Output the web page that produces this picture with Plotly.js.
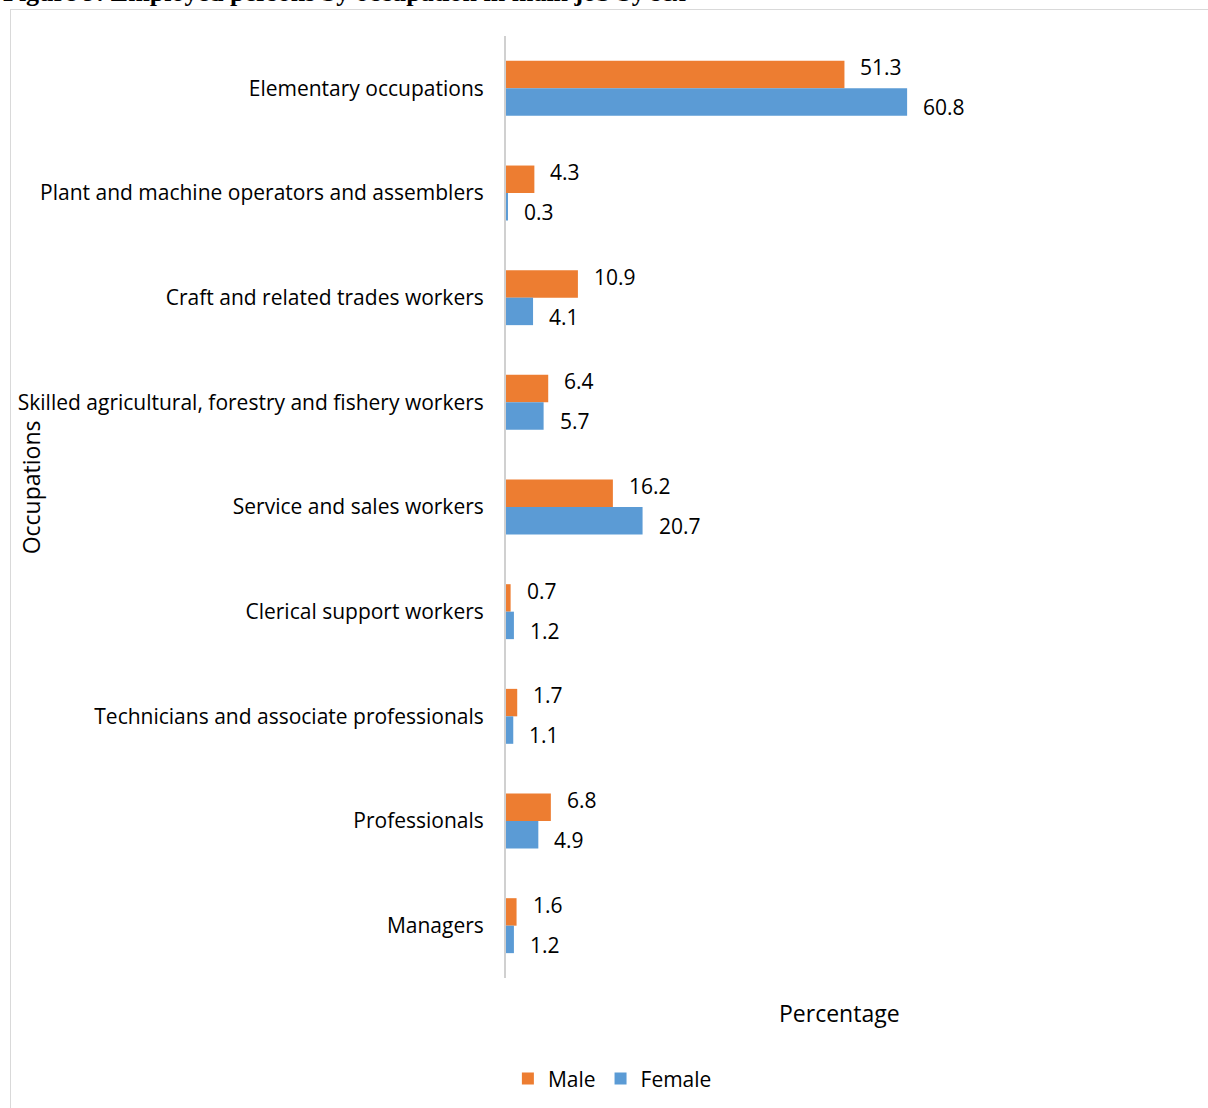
<!DOCTYPE html>
<html>
<head>
<meta charset="utf-8">
<script src="https://cdn.plot.ly/plotly-3.0.1.min.js"></script>
<style>
  html, body { margin: 0; padding: 0; background: #fff; overflow: hidden; }
  #chart { width: 1208px; height: 1108px; position: absolute; left: 0; top: 0; }
  #frame { position: absolute; left: 10px; top: 9px; width: 1400px; height: 1400px;
           border: 1px solid #d9d9d9; pointer-events: none; }
</style>
</head>
<body>
<div id="chart"></div>
<div id="frame"></div>
<script>
const categories = [
  "Elementary occupations",
  "Plant and machine operators and assemblers",
  "Craft and related trades workers",
  "Skilled agricultural, forestry and fishery workers",
  "Service and sales workers",
  "Clerical support workers",
  "Technicians and associate professionals",
  "Professionals",
  "Managers"
];
const maleValues   = [51.3, 4.3, 10.9, 6.4, 16.2, 0.7, 1.7, 6.8, 1.6];
const femaleValues = [60.8, 0.3, 4.1, 5.7, 20.7, 1.2, 1.1, 4.9, 1.2];
const seriesNames = ["Male", "Female"];
const chartTitle = "Figure 9: Employed persons by occupation in main job by sex";
const xTitle = "Percentage";
const yTitle = "Occupations";

const FONT = "'Open Sans', Lato, sans-serif";
const MALE_COLOR = "#ED7D31";
const FEMALE_COLOR = "#5B9BD5";

const traces = [
  { type: "bar", orientation: "h", name: seriesNames[0], y: categories, x: maleValues,
    marker: { color: MALE_COLOR }, hoverinfo: "x+y" },
  { type: "bar", orientation: "h", name: seriesNames[1], y: categories, x: femaleValues,
    marker: { color: FEMALE_COLOR }, hoverinfo: "x+y" }
];

const labelFont = { family: FONT, size: 21, color: "#000" };
const annotations = [];
categories.forEach((c, i) => {
  annotations.push({ x: maleValues[i], y: c, xref: "x", yref: "y", text: maleValues[i].toFixed(1),
    showarrow: false, xanchor: "left", yanchor: "middle", xshift: 14, yshift: 21, font: labelFont });
  annotations.push({ x: femaleValues[i], y: c, xref: "x", yref: "y", text: femaleValues[i].toFixed(1),
    showarrow: false, xanchor: "left", yanchor: "middle", xshift: 14, yshift: -19, font: labelFont });
});
annotations.push({ text: xTitle, xref: "paper", yref: "paper", x: 0.5, y: -0.037,
  xanchor: "center", yanchor: "middle", showarrow: false, font: { family: FONT, size: 23, color: "#000" } });
annotations.push({ text: yTitle, xref: "paper", yref: "paper", x: -0.712, y: 0.521, textangle: -90,
  xanchor: "center", yanchor: "middle", showarrow: false, font: { family: FONT, size: 23, color: "#000" } });
annotations.push({ text: "<b>" + chartTitle + "</b>", xref: "paper", yref: "paper", x: -0.757, y: 1.0287,
  xanchor: "left", yanchor: "bottom", showarrow: false,
  font: { family: "'Liberation Serif', 'DejaVu Serif', serif", size: 26, color: "#000" } });

const layout = {
  width: 1208, height: 1108,
  margin: { l: 506, r: 35, t: 36, b: 130, pad: 0, autoexpand: false },
  paper_bgcolor: "rgba(0,0,0,0)", plot_bgcolor: "rgba(0,0,0,0)",
  barmode: "group", bargap: 0.475, bargroupgap: 0,
  font: { family: FONT, size: 21, color: "#000" },
  xaxis: { range: [0, 101.1], showgrid: false, zeroline: false, showline: false,
           showticklabels: false, ticks: "", fixedrange: true },
  yaxis: { type: "category", autorange: "reversed", showgrid: false, zeroline: false,
           showline: true, linecolor: "#d0d0d0", linewidth: 2, ticks: "",
           ticklabelstandoff: 16, tickfont: { family: FONT, size: 21, color: "#000" } },
  showlegend: true,
  legend: { orientation: "h", x: 0.1595, xanchor: "center", y: -0.107, yanchor: "middle",
            font: { family: FONT, size: 21, color: "#000" }, itemwidth: 30, traceorder: "normal" },
  annotations: annotations
};

Plotly.newPlot("chart", traces, layout, { displayModeBar: false, staticPlot: true });
</script>
</body>
</html>
